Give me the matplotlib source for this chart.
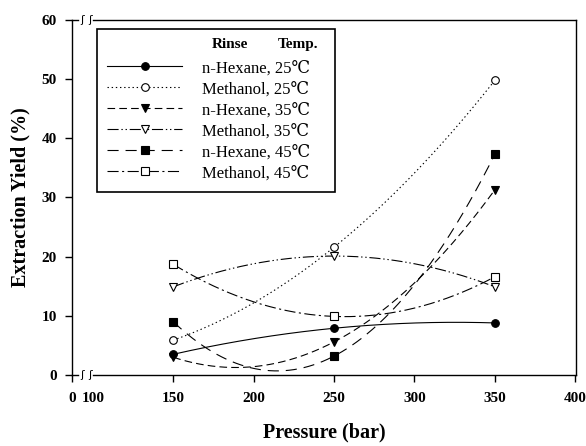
import numpy as np
import matplotlib
matplotlib.use("Agg")
import matplotlib.pyplot as plt

plt.rcParams['font.family'] = ['Liberation Serif', 'DejaVu Serif']
plt.rcParams['lines.scale_dashes'] = False

# data
pressure = [150, 250, 350]
hex_25 = [3.5, 7.9, 8.8]
met_25 = [5.9, 21.6, 49.8]
hex_35 = [3.0, 5.6, 31.3]
met_35 = [14.9, 20.1, 14.9]
hex_45 = [9.0, 3.2, 37.3]
met_45 = [18.7, 9.9, 16.6]

labels = ['n-Hexane, 25\u2103', 'Methanol, 25\u2103', 'n-Hexane, 35\u2103',
          'Methanol, 35\u2103', 'n-Hexane, 45\u2103', 'Methanol, 45\u2103']
series = [hex_25, met_25, hex_35, met_35, hex_45, met_45]
markers = ['o', 'o', 'v', 'v', 's', 's']
filled = [True, False, True, False, True, False]
dashes = ['-', (0, (1, 2)), (0, (5.5, 3)), (0, (8, 2, 1, 2, 1, 2)),
          (0, (8, 5)), (0, (8, 2.5, 1.5, 2.5))]

xtick_pos = [87, 100, 150, 200, 250, 300, 350, 400]
xtick_lab = ['0', '100', '150', '200', '250', '300', '350', '400']
yticks = [0, 10, 20, 30, 40, 50, 60]

fig = plt.figure(figsize=(5.86, 4.46), dpi=100)
ax = fig.add_axes([0.1229, 0.1592, 0.8601, 0.7960])

# smooth curve through the three points (quadratic, like the original spline)
xs = np.linspace(pressure[0], pressure[-1], 201)
for y, m, f, ls, lab in zip(series, markers, filled, dashes, labels):
    coef = np.polyfit(pressure, y, 2)
    ax.plot(xs, np.polyval(coef, xs), color='black', lw=0.8, linestyle=ls,
            marker=m, markevery=[0, 100, 200], ms=5.5 if m != 'v' else 6,
            mfc='black' if f else 'white', mec='black', mew=0.8, label=lab)

ax.set_xlim(87, 400.5)
ax.set_ylim(0, 60)
ax.set_xticks(xtick_pos)
ax.set_xticklabels(xtick_lab)
ax.set_yticks(yticks)
ax.xaxis.get_major_ticks()[1].tick1line.set_visible(False)
ax.tick_params(direction='out', length=5, width=1.0, labelsize=11)
ax.tick_params(axis='x', pad=7)
ax.tick_params(axis='y', pad=6)
for t in ax.get_xticklabels() + ax.get_yticklabels():
    t.set_fontweight('bold')

# broken left part of top and bottom axis lines
for s in ['top', 'bottom', 'left', 'right']:
    ax.spines[s].set_linewidth(1.0)
ax.spines['bottom'].set_bounds(100, 400.5)
ax.spines['top'].set_bounds(100, 400.5)
for yy in [0, 60]:
    ax.plot([87, 90.5], [yy, yy], color='black', lw=1.0, clip_on=False)
    for xx in [93.2, 98.2]:
        ax.text(xx, yy, '\u0283', family='DejaVu Sans', fontsize=8,
                ha='center', va='center', clip_on=False)

ax.set_xlabel('Pressure (bar)', fontsize=14.5, fontweight='bold')
ax.set_ylabel('Extraction Yield (%)', fontsize=14.5, fontweight='bold')
ax.xaxis.set_label_coords(0.5, -0.135)
ax.yaxis.set_label_coords(-0.083, 0.5)

leg = ax.legend(loc='upper left', bbox_to_anchor=(0.0496, 0.4, 0.472, 0.5746),
                mode='expand', borderaxespad=0, fancybox=False, framealpha=1,
                edgecolor='black', fontsize=12, title=' ',
                title_fontsize=12, handlelength=4.5, handletextpad=1.15,
                labelspacing=0.3, borderpad=0.62)
leg.get_frame().set_linewidth(1.2)
ax.text(0.278, 0.932, 'Rinse', transform=ax.transAxes, fontsize=11,
        fontweight='bold', ha='left', va='center', zorder=10)
ax.text(0.409, 0.932, 'Temp.', transform=ax.transAxes, fontsize=11,
        fontweight='bold', ha='left', va='center', zorder=10)

fig.savefig('out.png', dpi=100)
